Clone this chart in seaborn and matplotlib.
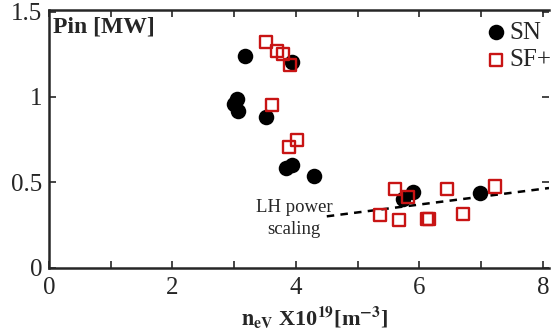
import matplotlib
matplotlib.use("Agg")
import matplotlib.pyplot as plt
import seaborn as sns
import pandas as pd

# ---- data ----
sn_x = [3.17, 3.05, 3.00, 3.06, 3.51, 3.94, 3.84, 3.94, 4.29, 5.90, 5.74, 6.98]
sn_y = [1.24, 0.99, 0.96, 0.915, 0.88, 1.205, 0.585, 0.60, 0.534, 0.442, 0.403, 0.436]
sf_x = [3.52, 3.70, 3.79, 3.90, 3.61, 4.01, 3.89, 5.60, 5.82, 6.44, 7.22, 5.37, 5.67, 6.12, 6.16, 6.70]
sf_y = [1.32, 1.27, 1.25, 1.19, 0.955, 0.746, 0.707, 0.462, 0.413, 0.462, 0.475, 0.309, 0.279, 0.283, 0.283, 0.313]
lh_x = [4.5, 8.1]
lh_y = [0.30, 0.466]
x_ticks = [0, 2, 4, 6, 8]
y_ticks = [0, 0.5, 1, 1.5]
y_tick_labels = ["0", "0.5", "1", "1.5"]

df = pd.DataFrame({
    "x": sn_x + sf_x,
    "y": sn_y + sf_y,
    "cfg": ["SN"] * len(sn_x) + ["SF+"] * len(sf_x),
})

sns.set_style("ticks")
plt.rcParams["font.family"] = ["Liberation Serif", "DejaVu Serif"]
plt.rcParams["mathtext.fontset"] = "stix"

fig = plt.figure(figsize=(5.54, 3.33), dpi=100)
ax = fig.add_axes([49 / 554, 1 - 267.5 / 333, 500 / 554, 257.5 / 333])

red = "#c81414"
sub_sn = df[df.cfg == "SN"]
sub_sf = df[df.cfg == "SF+"]
sns.scatterplot(data=sub_sn, x="x", y="y", ax=ax, marker="o", s=125,
                color="black", edgecolor="black", linewidth=0, label="SN", zorder=3)
sns.scatterplot(data=sub_sf, x="x", y="y", ax=ax, marker="s", s=75,
                facecolor="none", edgecolor=red, linewidth=1.7, label="SF+", zorder=4)
sns.lineplot(x=lh_x, y=lh_y, ax=ax, color="black", linestyle=(0, (3, 2.5)),
             linewidth=1.8, zorder=2)

ax.set_xlim(0, 8.1)
ax.set_ylim(0, 1.51)
ax.set_xticks(range(0, 9))
ax.set_xticklabels([str(i) if i in x_ticks else "" for i in range(0, 9)])
ax.set_yticks(y_ticks)
ax.set_yticklabels(y_tick_labels)
ax.tick_params(direction="in", length=5, width=1.2, labelsize=18,
               top=True, right=True, pad=5)
ax.tick_params(axis="x", pad=7)
for s in ["left", "bottom", "top"]:
    ax.spines[s].set_linewidth(1.8)
ax.spines["right"].set_visible(False)

ax.set_xlabel(r"$\mathbf{n}_{\mathbf{eV}}$ X10$^{\mathbf{19}}$[m$^{\mathbf{-3}}$]",
              fontsize=16, fontweight="bold")
ax.xaxis.set_label_coords((315 - 49) / 500, -(305 - 267.5) / 257.5)
ax.set_ylabel("")

ax.text(0.06, 1.47, "Pin [MW]", fontsize=17, fontweight="bold",
        va="top", ha="left")
ax.text(3.97, 0.35, "LH power", fontsize=13.5, ha="center", va="center")
ax.text(3.97, 0.22, "scaling", fontsize=13.5, ha="center", va="center")

leg = ax.legend(loc="upper right", bbox_to_anchor=(1.045, 1.034), frameon=False,
                fontsize=18, handletextpad=0.0, borderpad=0.3,
                labelspacing=0.2, handlelength=1.1)

fig.savefig("out.png", dpi=100)
